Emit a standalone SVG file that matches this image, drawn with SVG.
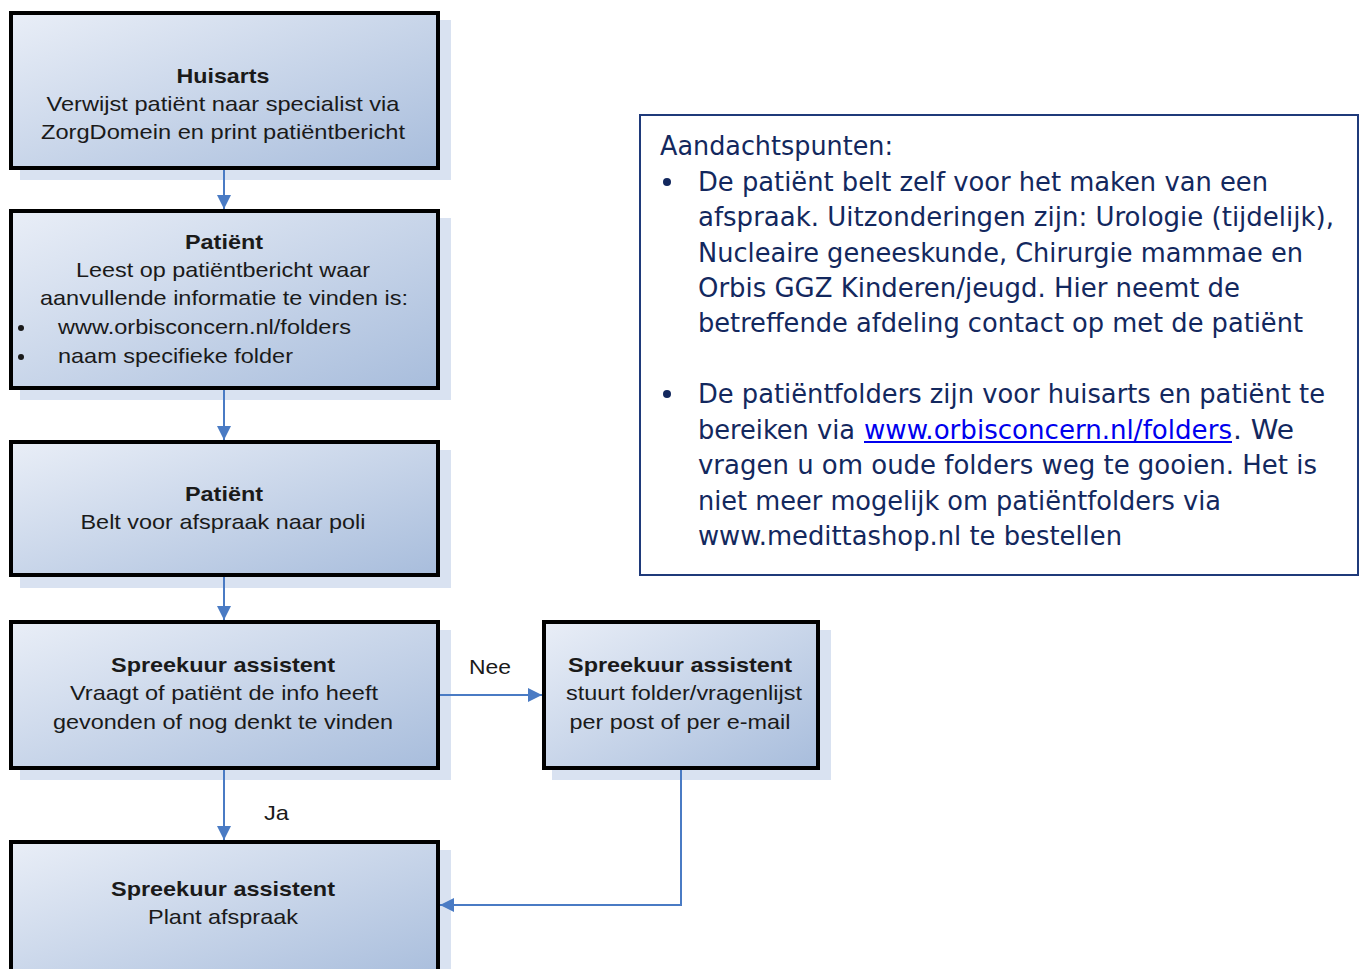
<svg xmlns="http://www.w3.org/2000/svg" width="1360" height="969" viewBox="0 0 1360 969">
<defs>
<linearGradient id="g" x1="0" y1="0" x2="1" y2="1">
<stop offset="0" stop-color="#E9EEF7"/>
<stop offset="1" stop-color="#A8BDDC"/>
</linearGradient>
<marker id="ah" viewBox="0 0 14 14" refX="14" refY="7" markerWidth="14" markerHeight="14" markerUnits="userSpaceOnUse" orient="auto">
<path d="M0,0 L14,7 L0,14 z" fill="#4A7BC4"/>
</marker>
<style>
.sh{fill:#D9E2F1;}
.bx{fill:url(#g);stroke:#000;stroke-width:4;}
.t{font-family:"Liberation Sans",Arial,sans-serif;font-size:21px;fill:#1a1a1a;text-anchor:middle;}
.tl{font-family:"Liberation Sans",Arial,sans-serif;font-size:21px;fill:#1a1a1a;}
.b{font-weight:bold;}
.c{fill:none;stroke:#4A7BC4;stroke-width:2;}
.n{font-family:"DejaVu Sans Condensed","DejaVu Sans",sans-serif;font-size:26px;fill:#13285E;}
.lk{fill:#0000EE;}
</style>
</defs>
<rect width="1360" height="969" fill="#fff"/>

<g id="n1">
<rect class="sh" x="20" y="20" width="431" height="160"/>
<rect class="bx" x="11" y="13" width="427" height="155"/>
<text class="t b" x="223" y="83" textLength="93" lengthAdjust="spacingAndGlyphs">Huisarts</text>
<text class="t" x="223" y="111" textLength="353" lengthAdjust="spacingAndGlyphs">Verwijst patiënt naar specialist via</text>
<text class="t" x="223" y="139" textLength="364" lengthAdjust="spacingAndGlyphs">ZorgDomein en print patiëntbericht</text>
</g>

<g id="n2">
<rect class="sh" x="20" y="218" width="431" height="182"/>
<rect class="bx" x="11" y="211" width="427" height="177"/>
<text class="t b" x="224" y="249" textLength="78" lengthAdjust="spacingAndGlyphs">Patiënt</text>
<text class="t" x="223" y="277" textLength="294" lengthAdjust="spacingAndGlyphs">Leest op patiëntbericht waar</text>
<text class="t" x="224" y="305" textLength="368" lengthAdjust="spacingAndGlyphs">aanvullende informatie te vinden is:</text>
<circle cx="21" cy="328" r="3" fill="#1a1a1a"/>
<circle cx="21" cy="357" r="3" fill="#1a1a1a"/>
<text class="tl" x="58" y="334" textLength="293" lengthAdjust="spacingAndGlyphs">www.orbisconcern.nl/folders</text>
<text class="tl" x="58" y="363" textLength="235" lengthAdjust="spacingAndGlyphs">naam specifieke folder</text>
</g>

<g id="n3">
<rect class="sh" x="20" y="450" width="431" height="138"/>
<rect class="bx" x="11" y="442" width="427" height="133"/>
<text class="t b" x="224" y="501" textLength="78" lengthAdjust="spacingAndGlyphs">Patiënt</text>
<text class="t" x="223" y="529" textLength="285" lengthAdjust="spacingAndGlyphs">Belt voor afspraak naar poli</text>
</g>

<g id="n4">
<rect class="sh" x="20" y="630" width="431" height="150"/>
<rect class="bx" x="11" y="622" width="427" height="146"/>
<text class="t b" x="223" y="672" textLength="224" lengthAdjust="spacingAndGlyphs">Spreekuur assistent</text>
<text class="t" x="224" y="700" textLength="308" lengthAdjust="spacingAndGlyphs">Vraagt of patiënt de info heeft</text>
<text class="t" x="223" y="729" textLength="340" lengthAdjust="spacingAndGlyphs">gevonden of nog denkt te vinden</text>
</g>

<g id="n5">
<rect class="sh" x="552" y="630" width="279" height="150"/>
<rect class="bx" x="544" y="622" width="274" height="146"/>
<text class="t b" x="680" y="672" textLength="224" lengthAdjust="spacingAndGlyphs">Spreekuur assistent</text>
<text class="t" x="684" y="700" textLength="236" lengthAdjust="spacingAndGlyphs">stuurt folder/vragenlijst</text>
<text class="t" x="680" y="729" textLength="221" lengthAdjust="spacingAndGlyphs">per post of per e-mail</text>
</g>

<g id="n6">
<rect class="sh" x="20" y="850" width="431" height="130"/>
<rect class="bx" x="11" y="842" width="427" height="140"/>
<text class="t b" x="223" y="896" textLength="224" lengthAdjust="spacingAndGlyphs">Spreekuur assistent</text>
<text class="t" x="223" y="924" textLength="150" lengthAdjust="spacingAndGlyphs">Plant afspraak</text>
</g>

<g id="connectors">
<line class="c" x1="224" y1="170" x2="224" y2="209" marker-end="url(#ah)"/>
<line class="c" x1="224" y1="390" x2="224" y2="440" marker-end="url(#ah)"/>
<line class="c" x1="224" y1="577" x2="224" y2="620" marker-end="url(#ah)"/>
<line class="c" x1="224" y1="770" x2="224" y2="840" marker-end="url(#ah)"/>
<line class="c" x1="440" y1="695" x2="542" y2="695" marker-end="url(#ah)"/>
<polyline class="c" points="681,770 681,905 440,905" marker-end="url(#ah)"/>
<text class="tl" x="469" y="674" textLength="42" lengthAdjust="spacingAndGlyphs">Nee</text>
<text class="tl" x="264" y="820" textLength="25" lengthAdjust="spacingAndGlyphs">Ja</text>
</g>

<g id="notes">
<rect x="640" y="115" width="718" height="460" fill="#fff" stroke="#1F3A7A" stroke-width="2"/>
<text class="n" x="660" y="155" textLength="233" lengthAdjust="spacingAndGlyphs">Aandachtspunten:</text>
<circle cx="667" cy="182" r="4" fill="#13285E"/>
<text class="n" x="698" y="191" textLength="570" lengthAdjust="spacingAndGlyphs">De patiënt belt zelf voor het maken van een</text>
<text class="n" x="698" y="226" textLength="636" lengthAdjust="spacingAndGlyphs">afspraak. Uitzonderingen zijn: Urologie (tijdelijk),</text>
<text class="n" x="698" y="262" textLength="605" lengthAdjust="spacingAndGlyphs">Nucleaire geneeskunde, Chirurgie mammae en</text>
<text class="n" x="698" y="297" textLength="542" lengthAdjust="spacingAndGlyphs">Orbis GGZ Kinderen/jeugd. Hier neemt de</text>
<text class="n" x="698" y="332" textLength="605" lengthAdjust="spacingAndGlyphs">betreffende afdeling contact op met de patiënt</text>
<circle cx="667" cy="394" r="4" fill="#13285E"/>
<text class="n" x="698" y="403" textLength="627" lengthAdjust="spacingAndGlyphs">De patiëntfolders zijn voor huisarts en patiënt te</text>
<text class="n" x="698" y="439" textLength="157" lengthAdjust="spacingAndGlyphs">bereiken via</text>
<text class="n lk" x="864" y="439" textLength="368" lengthAdjust="spacingAndGlyphs">www.orbisconcern.nl/folders</text>
<line x1="864" y1="442" x2="1232" y2="442" stroke="#0000EE" stroke-width="2"/>
<text class="n" x="1233" y="439" textLength="61" lengthAdjust="spacingAndGlyphs">. We</text>
<text class="n" x="698" y="474" textLength="619" lengthAdjust="spacingAndGlyphs">vragen u om oude folders weg te gooien. Het is</text>
<text class="n" x="698" y="510" textLength="523" lengthAdjust="spacingAndGlyphs">niet meer mogelijk om patiëntfolders via</text>
<text class="n" x="698" y="545" textLength="424" lengthAdjust="spacingAndGlyphs">www.medittashop.nl te bestellen</text>
</g>
</svg>
